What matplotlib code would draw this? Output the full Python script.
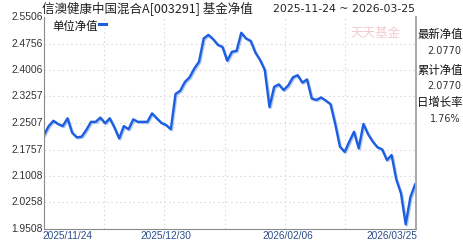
import numpy as np
import matplotlib
matplotlib.use("Agg")
import matplotlib.pyplot as plt
import matplotlib.patheffects as pe
import matplotlib.transforms as mtransforms

plt.rcParams['font.family'] = ['Noto Sans CJK SC', 'DejaVu Sans']

# unit NAV, one value per trading day 2025-11-24 .. 2026-03-25
nav = [2.217, 2.242, 2.257, 2.248, 2.242, 2.264, 2.223, 2.210, 2.212, 2.231,
       2.254, 2.254, 2.266, 2.250, 2.264, 2.238, 2.207, 2.242, 2.233, 2.261,
       2.254, 2.254, 2.254, 2.278, 2.264, 2.251, 2.245, 2.233, 2.333, 2.342,
       2.367, 2.380, 2.405, 2.424, 2.490, 2.500, 2.488, 2.472, 2.466, 2.427,
       2.452, 2.455, 2.506, 2.490, 2.483, 2.450, 2.429, 2.401, 2.296, 2.353,
       2.360, 2.344, 2.357, 2.380, 2.386, 2.365, 2.374, 2.320, 2.316, 2.323,
       2.314, 2.304, 2.248, 2.184, 2.169, 2.198, 2.226, 2.179, 2.248, 2.219,
       2.198, 2.182, 2.176, 2.146, 2.160, 2.091, 2.052, 1.964, 2.041, 2.077]

y_ticks = [1.9508, 2.0258, 2.1008, 2.1757, 2.2507, 2.3257, 2.4006, 2.4756, 2.5506]
x_label_pos = [0, 26, 52, 79]
x_labels = ["2025/11/24", "2025/12/30", "2026/02/06", "2026/03/25"]

title = "信澳健康中国混合A[003291] 基金净值"
date_range = "2025-11-24 ~ 2026-03-25"
side_labels = ["最新净值", "累计净值", "日增长率"]
side_values = ["2.0770", "2.0770", "1.76%"]

W, H = 463, 242
fig = plt.figure(figsize=(W/100, H/100), dpi=100)
ax = fig.add_axes([44/W, (H-229)/H, 372/W, 212/H])

x = np.arange(len(nav))
ax.plot(x, nav, color='#1d5ee0', lw=1.7, solid_joinstyle='round',
        path_effects=[pe.SimpleLineShadow(offset=(0.8, -0.8), shadow_color='#6f9be8', alpha=0.55),
                      pe.Normal()])

ax.set_xlim(0, 79.2)
ax.set_ylim(y_ticks[0], y_ticks[-1])

# grid
for v in y_ticks[1:-1]:
    ax.axhline(v, color='#dcdcdc', lw=0.8, ls=(0, (1.5, 2.5)), zorder=0)
for k in range(1, 6):
    ax.axvline(k*12.82, color='#dcdcdc', lw=0.8, ls=(0, (1.5, 2.5)), zorder=0)

ax.set_xticks([])
ax.set_yticks([])
ax.spines['top'].set_visible(False)
ax.spines['left'].set_color('#8a8a8a')
ax.spines['bottom'].set_color('#8a8a8a')
ax.spines['right'].set_color('#a8a8a8')
ax.spines['right'].set_linewidth(1.4)

# y labels
for v in y_ticks:
    ax.text(-0.004, v, "%.4f" % v, transform=ax.get_yaxis_transform(),
            ha='right', va='center', fontsize=7.4, color='#333333',
            family='Liberation Sans')

# x labels
xtrans = mtransforms.blended_transform_factory(ax.transData, fig.transFigure)
for i, (p, lab) in enumerate(zip(x_label_pos, x_labels)):
    ha = 'left' if i == 0 else ('right' if i == 3 else 'center')
    if i == 0:
        p = -0.4
    if i == 3:
        p = 79.4
    ax.text(p, 1 - 241/H, lab, transform=xtrans, ha=ha, va='bottom',
            fontsize=7.3, color='#2c4c8c', family='Liberation Sans')

# legend
fig.text(52/W, 1-26/H, "单位净值", fontsize=8.2, color='#111111', va='center', ha='left')
fig.add_artist(plt.Line2D([99/W, 106/W], [1-24/H, 1-24/H], color='#1d5ee0', lw=2.2))

# watermark
fig.text(375/W, 1-34/H, "天天基金", fontsize=9, color='#f2c4c8', va='center', ha='center',
         style='italic', alpha=0.9)

# title
fig.text(42/W, 1-9/H, title, fontsize=9, color='#222222', va='center', ha='left')
fig.text(415/W, 1-9/H, date_range, fontsize=7.8, color='#222222', va='center', ha='right',
         family='DejaVu Sans')

# side panel
ys_lab = [34, 70, 102]
ys_val = [51, 86, 119]
for lab, val, yl, yv in zip(side_labels, side_values, ys_lab, ys_val):
    fig.text(417/W, 1-yl/H, lab, fontsize=8.2, color='#111111', va='center', ha='left')
    fig.text(461/W, 1-yv/H, val, fontsize=7, color='#333333', va='center', ha='right',
             family='DejaVu Sans')

fig.savefig("out.png", dpi=100)
